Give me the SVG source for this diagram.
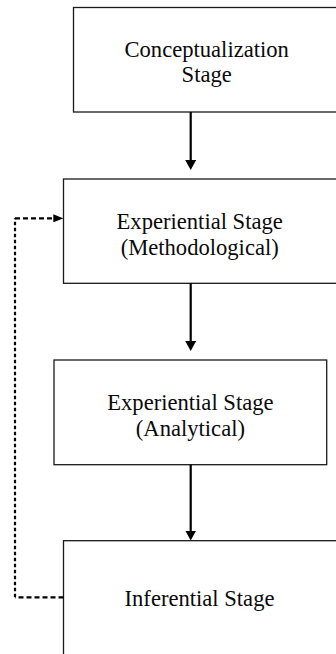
<svg xmlns="http://www.w3.org/2000/svg" width="336" height="654" viewBox="0 0 336 654">
  <style>
    .box { fill: #ffffff; stroke: #1a1a1a; stroke-width: 1.3; }
    .label { font-family: "Liberation Serif", "Times New Roman", serif; font-size: 22.6px; fill: #0a0a0a; text-anchor: middle; }
    .flow { fill: none; stroke: #000000; stroke-width: 2.2; }
    .loop { fill: none; stroke: #000000; stroke-width: 2.2; }
  </style>
  <defs>
    <!-- solid arrowhead: tip sits 4 units past the path end -->
    <marker id="head" markerUnits="userSpaceOnUse" markerWidth="11" markerHeight="11" refX="6" refY="5.5" orient="auto">
      <path d="M0,0 L10,5.5 L0,11 Z" fill="#000000"/>
    </marker>
    <marker id="head-small" markerUnits="userSpaceOnUse" markerWidth="10" markerHeight="8" refX="6" refY="4" orient="auto">
      <path d="M0,0 L10,4 L0,8 Z" fill="#000000"/>
    </marker>
  </defs>

  <rect width="336" height="654" fill="#ffffff"/>

  <g id="conceptualization">
    <rect class="box" x="73.5" y="7.5" width="267" height="104.5"/>
    <text class="label" x="206.7" y="56.5">Conceptualization</text>
    <text class="label" x="206.7" y="82.3">Stage</text>
  </g>

  <g id="experiential-methodological">
    <rect class="box" x="63.5" y="179" width="274" height="104.3"/>
    <text class="label" x="199.7" y="228.5">Experiential Stage</text>
    <text class="label" x="199.7" y="254.5">(Methodological)</text>
  </g>

  <g id="experiential-analytical">
    <rect class="box" x="54" y="360" width="272.7" height="104.7"/>
    <text class="label" x="190.4" y="409.5">Experiential Stage</text>
    <text class="label" x="190.4" y="435.5">(Analytical)</text>
  </g>

  <g id="inferential">
    <rect class="box" x="63.5" y="540.7" width="274" height="130"/>
    <text class="label" x="199.5" y="606">Inferential Stage</text>
  </g>

  <g id="connectors">
    <path class="flow" d="M190.7,112 L190.7,166" marker-end="url(#head)"/>
    <path class="flow" d="M190.7,283.3 L190.7,347" marker-end="url(#head)"/>
    <path class="flow" d="M190.7,464.7 L190.7,536.5" marker-end="url(#head)"/>
    <!-- feedback loop from the inferential stage back to the methodological stage -->
    <path class="loop" d="M63.5,597.3 L15,597.3" stroke-dasharray="5 3"/>
    <path class="loop" d="M15,597.3 L15,218.3" stroke-dasharray="3.5 2.5"/>
    <path class="loop" d="M15,218.3 L59.3,218.3" stroke-dasharray="5 3" marker-end="url(#head-small)"/>
  </g>
</svg>
